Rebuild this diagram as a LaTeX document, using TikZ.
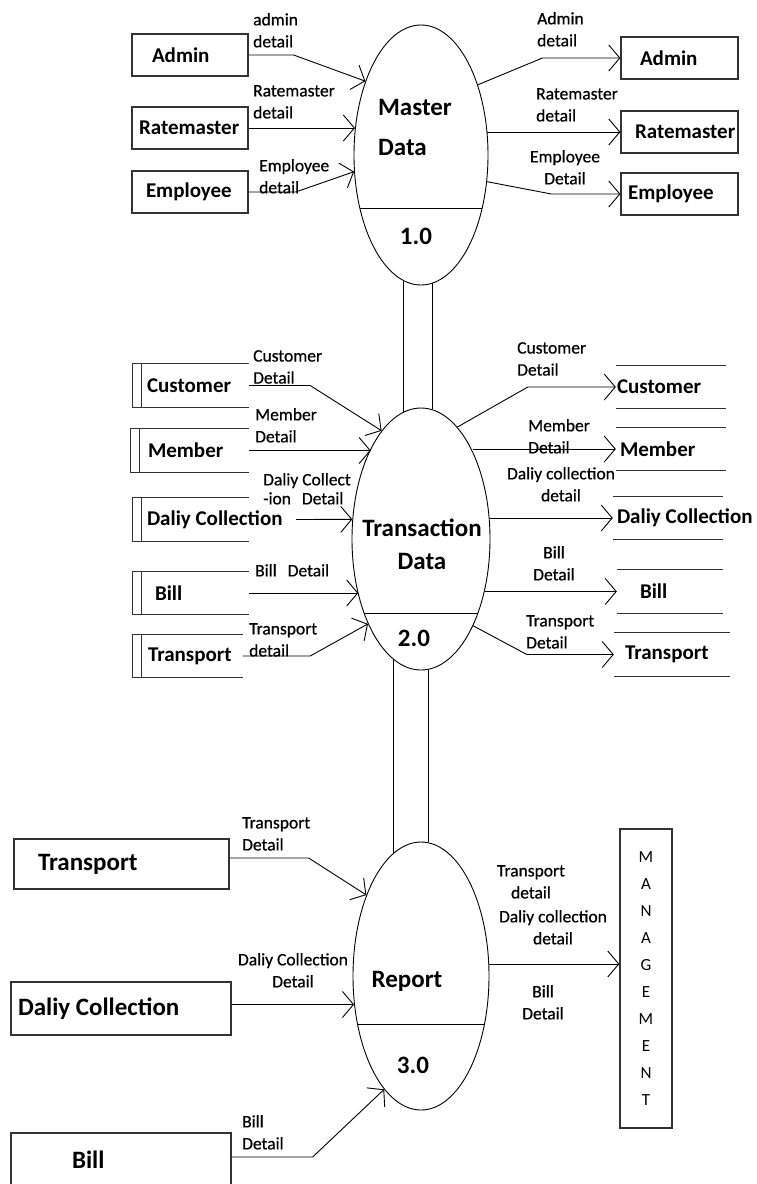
\documentclass[tikz,border=0pt]{standalone}
\usepackage{fontspec}
\setmainfont{Carlito}
\newfontfamily\lblfont{Carlito}[FakeBold=0.6]
\usepackage{tikz}
\usetikzlibrary{arrows.meta,calc,shapes.geometric}
\newcommand{\lefttext}[2]{\makebox[#1][l]{#2}}

\begin{document}
\begin{tikzpicture}[x=1pt,y=-1pt,
    box/.style={draw=black!80,line width=1.3pt,inner sep=0pt,font=\fontsize{21}{25}\bfseries\selectfont},
    bigbox/.style={box,font=\fontsize{25}{30}\bfseries\selectfont},
    store/.style={inner sep=0pt,font=\fontsize{21}{25}\bfseries\selectfont},
    proc/.style={ellipse,draw,line width=0.9pt,inner sep=0pt},
    big/.style={inner sep=0pt,font=\fontsize{25}{33}\bfseries\selectfont},
    lbl/.style={inner sep=0pt,anchor=north west,align=left,font=\lblfont\fontsize{17.5}{22}\selectfont},
    lblc/.style={lbl,anchor=north,align=center},
    flow/.style={line width=0.9pt,-{Straight Barb[length=11pt,width=26pt,line width=0.9pt]}}]
    \useasboundingbox (0,0) rectangle (757,1184);
    % processes
    \node[proc,minimum width=134,minimum height=260] (md) at (421,155) {};
    \node[proc,minimum width=138,minimum height=262] (td) at (421,539) {};
    \node[proc,minimum width=136,minimum height=268] (rp) at (421,976) {};
    \foreach \p/\h/\w in {md/53/61,td/74/57,rp/48/63}{\draw[line width=0.9pt] ($(\p.center)+(-\w,\h)$)--($(\p.center)+(\w,\h)$);}
    \foreach \a/\b/\dx/\ua/\ub in {md/td/-18/-5/4.5,md/td/11/-2/1.7,td/rp/-28/-11/12,td/rp/7/-0.7/0.7}{\draw[line width=0.9pt] ($(\a.south)+(\dx,\ua)$)--($(\b.north)+(\dx,\ub)$);}
    \node[big,align=left,font=\fontsize{25}{40}\bfseries\selectfont] (mdtxt) at (415,127) {Master\\Data};
    \node[big] (mdno) at (416,236) {1.0};
    \node[big,align=center] (tdtxt) at (422,544) {Transaction\\Data};
    \node[big] (tdno) at (414,638) {2.0};
    \node[big] (rptxt) at (407,981) {Report};
    \node[big] (rpno) at (413,1065) {3.0};
    % master data
    \node[box,minimum width=116,minimum height=42] (adm1) at (190,55) {\lefttext{76pt}{Admin}};
    \node[box,minimum width=116,minimum height=42] (rat1) at (190,128) {\lefttext{102pt}{Ratemaster}};
    \node[box,minimum width=116,minimum height=42] (emp1) at (190,192) {\lefttext{88pt}{Employee}};
    \node[box,minimum width=117,minimum height=42] (adm2) at (679.5,58) {\lefttext{79pt}{Admin}};
    \node[box,minimum width=117,minimum height=42] (rat2) at (679.5,132) {\lefttext{89pt}{Ratemaster}};
    \node[box,minimum width=117,minimum height=42] (emp2) at (679.5,194) {\lefttext{103pt}{Employee}};
    \draw[flow] (adm1.east)--([xshift=45pt]adm1.east)--(md.127);
    \draw[flow] (rat1.east)--(rat1.east -| md.158);
    \draw[flow] (emp1.east)--([xshift=47pt]emp1.east)--(md.194);
    \draw[flow] (md.51)--([xshift=-78pt]adm2.west)--(adm2.west);
    \draw[flow] (rat2.west -| md.19)--(rat2.west);
    \draw[flow] (md.338)--([xshift=-69pt]emp2.west)--(emp2.west);
    \node[lbl] (l1) at (253,13) {admin\\detail};
    \node[lbl] (l2) at (253,85) {Ratemaster\\detail};
    \node[lbl] (l3) at (259,159) {Employee\\detail};
    \node[lbl] (l4) at (537,12) {Admin\\detail};
    \node[lbl] (l5) at (536,88) {Ratemaster\\detail};
    \node[lblc] (l6) at (565,150) {Employee\\Detail};
    % transaction data
    \node[store,minimum width=116,minimum height=43] (cus1) at (191,385.5) {\lefttext{88pt}{Customer}};
    \node[store,minimum width=118,minimum height=43] (mem1) at (190,450.5) {\lefttext{84pt}{Member}};
    \node[store,minimum width=116,minimum height=43] (dal1) at (191,519.5) {\lefttext{88pt}{Daliy Collection}};
    \node[store,minimum width=116,minimum height=42] (bil1) at (191,593) {\lefttext{72pt}{Bill}};
    \node[store,minimum width=110,minimum height=42] (tra1) at (188,656) {\lefttext{80pt}{Transport}};
    \foreach \s in {cus1,mem1,dal1,bil1,tra1}{
      \draw[draw=black!80,line width=1.3pt] (\s.north east)--(\s.north west)--(\s.south west)--(\s.south east)
        ([xshift=9pt]\s.north west)--([xshift=9pt]\s.south west);}
    \node[store,minimum width=110,minimum height=42] (cus2) at (671,387) {\lefttext{108pt}{Customer}};
    \node[store,minimum width=110,minimum height=42] (mem2) at (671,449) {\lefttext{102pt}{Member}};
    \node[store,minimum width=110,minimum height=42] (dal2) at (668,518) {\lefttext{102pt}{Daliy Collection}};
    \node[store,minimum width=106,minimum height=43] (bil2) at (670,591.5) {\lefttext{60pt}{Bill}};
    \node[store,minimum width=116,minimum height=43] (tra2) at (672,654.5) {\lefttext{94pt}{Transport}};
    \foreach \s in {cus2,mem2,dal2,bil2,tra2}{
      \draw[draw=black!80,line width=1.3pt] (\s.north west)--(\s.north east) (\s.south west)--(\s.south east);}
    \draw[flow] (cus1.east)--([xshift=61pt]cus1.east)--(td.110);
    \draw[flow] (mem1.east)--(mem1.east -| td.119);
    \draw[flow] ([xshift=47pt]dal1.east)--(td.164);
    \draw[flow] (bil1.east)--(bil1.east -| td.222);
    \draw[flow] (tra1.east)--([xshift=67pt]tra1.east)--(td.238);
    \draw[flow] (td.72)--([xshift=-88pt]cus2.west)--(cus2.west);
    \draw[flow] (mem2.west -| td.59)--(mem2.west);
    \draw[flow] (dal2.west -| td.2)--(dal2.west);
    \draw[flow] (bil2.west -| td.321)--(bil2.west);
    \draw[flow] (td.301)--([xshift=-87pt]tra2.west)--(tra2.west);
    \node[lbl] (l7) at (253,350) {Customer\\Detail};
    \node[lbl] (l8) at (255,408) {Member\\Detail};
    \node[lbl,font=\lblfont\fontsize{17.5}{19}\selectfont] (l9) at (263,473) {Daliy Collect\\-ion\hspace{11pt}Detail};
    \node[lbl] (l10) at (255,564) {Bill\hspace{11pt}Detail};
    \node[lbl] (l11) at (249,623) {Transport\\detail};
    \node[lbl] (l12) at (517,342) {Customer\\Detail};
    \node[lbl] (l13) at (528,419) {Member\\Detail};
    \node[lblc] (l14) at (561,467) {Daliy collection\\detail};
    \node[lblc] (l15) at (554,546) {Bill\\Detail};
    \node[lbl] (l16) at (526,615) {Transport\\Detail};
    % report
    \node[bigbox,minimum width=215,minimum height=50] (tra3) at (121.5,864) {\lefttext{167pt}{Transport}};
    \node[bigbox,minimum width=220,minimum height=53] (dal3) at (121,1008.5) {\lefttext{206pt}{Daliy Collection}};
    \node[bigbox,minimum width=220,minimum height=58] (bil3) at (121,1162) {\raisebox{5pt}{\lefttext{98pt}{Bill}}};
    \node[box,minimum width=52,minimum height=299,align=center,font=\fontsize{17}{27.1}\selectfont] (mgt) at (646,978.5) {M\\A\\N\\A\\G\\E\\M\\E\\N\\T};
    \draw[flow] ([yshift=6pt]tra3.east)--([shift={(79pt,6pt)}]tra3.east)--(rp.124);
    \draw[flow] ([yshift=4pt]dal3.east)--([yshift=4pt]dal3.east -| rp.203);
    \draw[flow] ([yshift=5pt]bil3.east)--([shift={(81pt,5pt)}]bil3.east)--(rp.252);
    \draw[flow] (rp.10)--(rp.10 -| mgt.west);
    \node[lbl] (l17) at (242,817) {Transport\\Detail};
    \node[lblc] (l18) at (293,953) {Daliy Collection\\Detail};
    \node[lbl] (l19) at (242,1115) {Bill\\Detail};
    \node[lblc] (l20) at (531,865) {Transport\\detail};
    \node[lblc] (l21) at (553,910) {Daliy collection\\detail};
    \node[lblc] (l22) at (543,985) {Bill\\Detail};
\end{tikzpicture}
\end{document}
